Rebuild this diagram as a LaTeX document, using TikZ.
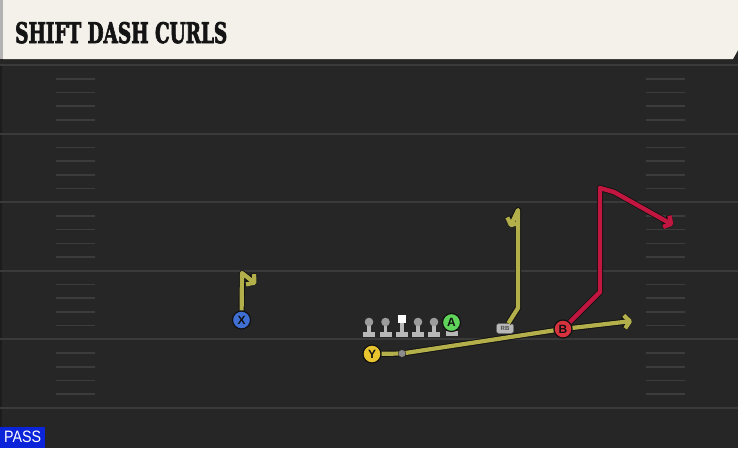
\documentclass[tikz,border=0pt]{standalone}
\usepackage{fontspec}
\usetikzlibrary{arrows.meta}
\newfontfamily\titlefont{DejaVu Serif}[BoldFeatures={FakeBold=3}]
\newfontfamily\labelfont{Liberation Sans}
\definecolor{fieldbg}{HTML}{262626}
\definecolor{yardline}{HTML}{3A3A3A}
\definecolor{hashc}{HTML}{3C3C3C}
\definecolor{cream}{HTML}{F4F1EB}
\definecolor{routeY}{HTML}{B3AF4A}
\definecolor{routeR}{HTML}{C0163F}
\definecolor{outl}{HTML}{111111}
\definecolor{passblue}{HTML}{0B24DA}
\definecolor{plblue}{HTML}{3F6FD3}
\definecolor{plgreen}{HTML}{5FD35A}
\definecolor{plyellow}{HTML}{E8C52F}
\definecolor{plred}{HTML}{D9323F}
\definecolor{olgrey}{HTML}{B8B8B8}
\definecolor{olhead}{HTML}{9C9C9C}
\tikzset{
  yard/.style={draw=yardline, line width=2pt},
  hashmark/.style={draw=hashc, line width=1.6pt},
  player/.style={circle, minimum size=18pt, inner sep=0pt, draw=outl, line width=1.2pt,
    font=\labelfont\bfseries\fontsize{12}{12}\selectfont, text=outl},
  tipY/.style={-{Straight Barb[length=5.5pt,width=13pt,line join=round]}},
  routeyel/.style={draw=routeY, line width=4.2pt, line join=round,
    preaction={draw=outl, line width=6pt, line join=round}},
  routered/.style={draw=routeR, line width=4.4pt, line join=round,
    preaction={draw=outl, line width=6pt, line join=round}},
  lineman/.pic={
    \fill[olgrey] (-6,10) rectangle (6,14.5);
    \fill[olgrey] (-1.8,0) rectangle (1.8,11);
    \fill[olhead] (0,0) circle (4.3);
  },
  centerman/.pic={
    \fill[olgrey] (-6,10) rectangle (6,14.5);
    \fill[olgrey] (-1.8,0) rectangle (1.8,11);
    \fill[white] (-3.8,-7) rectangle (3.8,1);
  }
}
\begin{document}
\begin{tikzpicture}[x=1pt,y=-1pt]
\useasboundingbox (0,0) rectangle (738,448);
% field
\fill[fieldbg] (0,0) rectangle (738,448);
\fill[fill=black!25!fieldbg] (0,59) rectangle (2,448);
\foreach \yy in {65,133.6,202.2,270.8,339.4,408} {
  \draw[yard] (0,\yy) -- (738,\yy);
}
\foreach \yb in {65,133.6,202.2,270.8,339.4} {
  \foreach \k in {1,2,3,4} {
    \draw[hashmark] (56,\yb+\k*13.72) -- (95,\yb+\k*13.72);
    \draw[hashmark] (646,\yb+\k*13.72) -- (685,\yb+\k*13.72);
  }
}
% title bar
\fill[black!85] (0,58) rectangle (738,64);
\fill[cream] (3,0) -- (738,0) -- (738,50) -- (733,59) -- (3,59) -- cycle;
\fill[black!30] (0,0) rectangle (3,59);
\node[anchor=base west, inner sep=0pt, text=black!92] (title) at (15,43)
  {\resizebox{212pt}{21pt}{\titlefont\bfseries SHIFT DASH CURLS}};
% PASS tag
\node[fill=passblue, anchor=south west, minimum width=45pt, minimum height=21pt,
  inner sep=0pt, text=white] (pass) at (0,448)
  {\resizebox{37pt}{11.5pt}{\labelfont PASS}};
% linemen
\pic at (369,322) {lineman};
\pic at (385.5,322) {lineman};
\pic at (402,322) {centerman};
\pic at (418,322) {lineman};
\pic at (434,322) {lineman};
\fill[olgrey] (445.5,331) rectangle (457.5,335.5);
% players
\node[player, fill=plblue] (X) at (241.5,320) {X};
\node[player, fill=plgreen] (A) at (451.5,322.5) {A};
\node[player, fill=plyellow] (Y) at (372,354) {Y};
\node[player, fill=plred] (B) at (563,329) {B};
\node[circle, fill=black!45, inner sep=0pt, minimum size=7pt] (ydot) at (402,353.5) {};
\node[rounded corners=2.5pt, fill=olgrey, draw=black!60, line width=0.5pt, inner sep=0pt,
  minimum width=17pt, minimum height=10pt, font=\labelfont\bfseries\fontsize{6}{6}\selectfont,
  text=black!70] (RB) at (505,328.5) {RB};
% route coordinates
\coordinate (xtop) at (242,273);
\coordinate (xend) at (256,284);
\coordinate (rb1) at (518,308);
\coordinate (rbtop) at (518,210);
\coordinate (rbend) at (510,227);
\coordinate (yend) at (632,321);
\coordinate (b1) at (600,292);
\coordinate (btop) at (600,188);
\coordinate (bc) at (614,192);
\coordinate (bend) at (673,225);
% routes
\draw[routeyel, tipY] (X) -- (xtop) -- (xend);
\draw[routeyel, tipY] (RB) -- (rb1) -- (rbtop) -- (rbend);
\draw[routeyel] (Y) -- (ydot);
\draw[routeyel] (ydot) -- (B);
\draw[routeyel, tipY] (B) -- (yend);
\draw[routered, tipY] (B) -- (b1) -- (btop) -- (bc) -- (bend);
\end{tikzpicture}
\end{document}
